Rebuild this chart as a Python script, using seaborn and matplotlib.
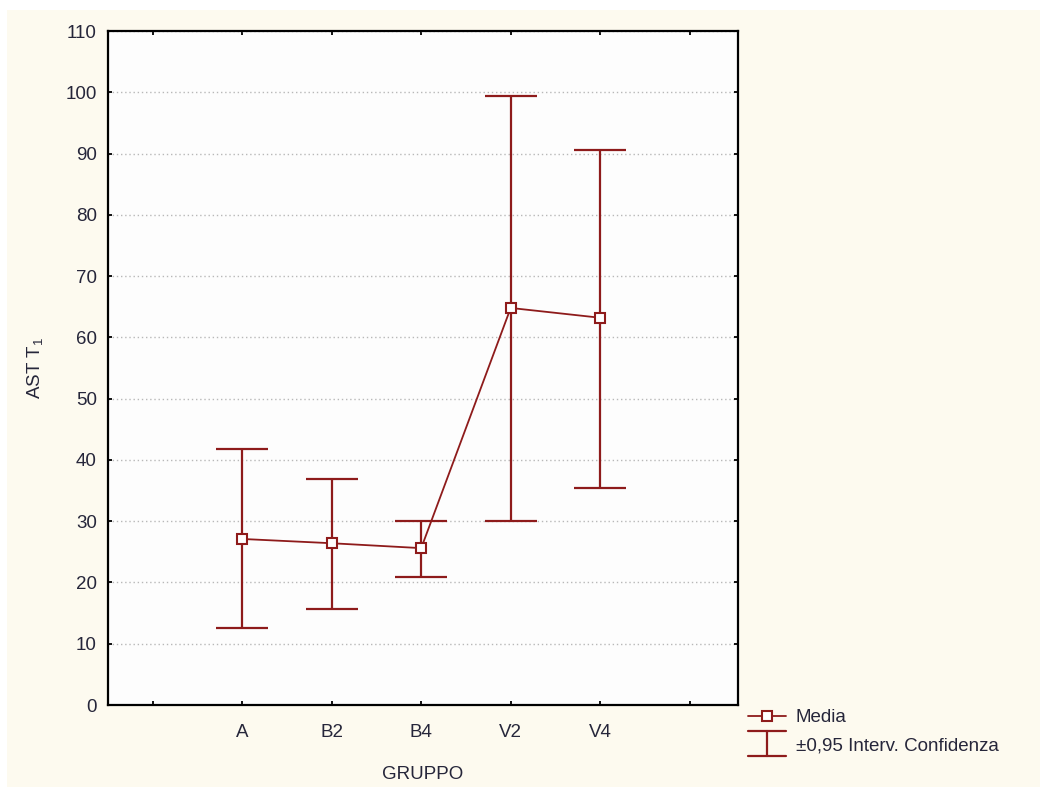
"""Mean AST T1 per group with 0.95 confidence intervals."""

import matplotlib

matplotlib.use("Agg")

import matplotlib.pyplot as plt
import pandas as pd
import seaborn as sns
from matplotlib.legend_handler import HandlerBase
from matplotlib.lines import Line2D
from matplotlib.patches import Rectangle

groups = ["A", "B2", "B4", "V2", "V4"]
media = [27.1, 26.4, 25.6, 64.8, 63.2]
ci_low = [12.6, 15.6, 20.9, 30.0, 35.4]
ci_high = [41.8, 36.9, 30.0, 99.4, 90.6]

RED = "#8E1B1B"
CREAM = "#FDFAEF"
TEXT = "#26263A"
FONT_SIZE = 13.5


class CapHandler(HandlerBase):
    """Draw the I-shaped confidence interval symbol in the legend."""

    def create_artists(self, legend, orig_handle, xdescent, ydescent, width, height, fontsize, trans):
        x0, x1 = -xdescent, -xdescent + width
        xm = (x0 + x1) / 2
        yc = -ydescent + height / 2
        half = 0.95 * height
        kw = dict(color=RED, lw=1.6, transform=trans)
        return [
            Line2D([x0, x1], [yc - half, yc - half], **kw),
            Line2D([x0, x1], [yc + half, yc + half], **kw),
            Line2D([xm, xm], [yc - half, yc + half], **kw),
        ]


def main():
    sns.set_theme(style="white")
    plt.rcParams["font.family"] = ["Liberation Sans", "DejaVu Sans"]
    plt.rcParams["mathtext.default"] = "regular"

    data = pd.DataFrame({"gruppo": groups, "media": media, "low": ci_low, "high": ci_high})
    data["pos"] = range(1, len(groups) + 1)

    fig = plt.figure(figsize=(10.4, 7.87), dpi=100, facecolor="white")
    fig.patches.append(Rectangle((7 / 1040, 0), 1, 1 - 10 / 787, transform=fig.transFigure,
                                 facecolor=CREAM, edgecolor="none", zorder=-10))
    ax = fig.add_axes([108 / 1040, 82 / 787, 630 / 1040, 674 / 787])
    ax.set_facecolor("#FDFDFD")

    ax.errorbar(data["pos"], data["media"],
                yerr=[data["media"] - data["low"], data["high"] - data["media"]],
                fmt="none", ecolor=RED, elinewidth=1.6, capsize=19, capthick=1.6, zorder=3)
    sns.lineplot(data=data, x="pos", y="media", ax=ax, color=RED, lw=1.3, marker="s",
                 markersize=7, markerfacecolor="white", markeredgecolor=RED,
                 markeredgewidth=1.5, zorder=4)

    ax.set_xlim(-0.5, 6.54)
    ax.set_ylim(0, 110)
    ax.set_xticks(range(0, 7))
    ax.set_xticklabels([""] + groups + [""])
    ax.set_yticks(range(0, 111, 10))
    ax.yaxis.grid(True, color="#B8B8B8", linestyle=(0, (1, 2)), lw=1)
    ax.xaxis.grid(False)
    ax.set_axisbelow(True)

    for spine in ax.spines.values():
        spine.set_color("black")
        spine.set_linewidth(1.6)
    ax.tick_params(direction="in", length=3, width=1.3, color="black", labelcolor=TEXT,
                   labelsize=FONT_SIZE, top=True, right=True, bottom=True, left=True, pad=8)
    ax.tick_params(axis="x", pad=14)

    ax.set_xlabel("GRUPPO", fontsize=FONT_SIZE, color=TEXT, labelpad=18)
    ax.set_ylabel("AST T$_1$", fontsize=FONT_SIZE, color=TEXT, labelpad=15)

    handles = [
        Line2D([], [], color=RED, lw=1.3, marker="s", markersize=7,
               markerfacecolor="white", markeredgecolor=RED, markeredgewidth=1.5),
        Rectangle((0, 0), 1, 1),
    ]
    fig.legend(handles, ["Media", "±0,95 Interv. Confidenza"],
               handler_map={Rectangle: CapHandler()},
               loc="upper left", bbox_to_anchor=(748 / 1040, 1 - 709 / 787),
               frameon=False, fontsize=FONT_SIZE, labelcolor=TEXT,
               handlelength=2.0, handletextpad=0.55, labelspacing=0.6,
               borderaxespad=0, borderpad=0)

    fig.savefig("out.png", dpi=100, facecolor=fig.get_facecolor())
    plt.close(fig)


if __name__ == "__main__":
    main()
